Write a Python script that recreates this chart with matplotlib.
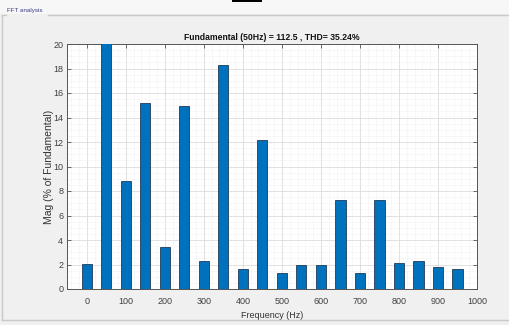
import matplotlib.pyplot as plt
from matplotlib.lines import Line2D
from matplotlib.patches import Rectangle
from matplotlib.ticker import MultipleLocator

# harmonic frequencies (Hz) and magnitudes (% of fundamental)
freqs = [0, 50, 100, 150, 200, 250, 300, 350, 400, 450, 500,
         550, 600, 650, 700, 750, 800, 850, 900, 950]
mags = [2.05, 100.0, 8.85, 15.2, 3.43, 14.9, 2.31, 18.25, 1.66, 12.15, 1.33,
        1.98, 1.98, 7.3, 1.28, 7.25, 2.12, 2.26, 1.82, 1.63]
x_ticks = [0, 100, 200, 300, 400, 500, 600, 700, 800, 900, 1000]
y_ticks = [0, 2, 4, 6, 8, 10, 12, 14, 16, 18, 20]
title = "Fundamental (50Hz) = 112.5 , THD= 35.24%"

W, H = 509, 325
FONT = "Liberation Sans"
fig = plt.figure(figsize=(W / 100, H / 100), dpi=100)
fig.patch.set_facecolor("#f0f0f0")

# top strip + panel frame (MATLAB powergui look)
fig.patches.append(Rectangle((0, 1 - 14 / H), 1, 14 / H, transform=fig.transFigure,
                             facecolor="#f7f7f7", edgecolor="none", zorder=0))
fig.patches.append(Rectangle((232 / W, 1 - 2 / H), 30 / W, 2 / H, transform=fig.transFigure,
                             facecolor="black", edgecolor="none"))
frame = "#c9c9c9"
fig.lines.append(Line2D([48 / W, 1], [1 - 15 / H, 1 - 15 / H], transform=fig.transFigure, color=frame, lw=1))
fig.lines.append(Line2D([2 / W, 2 / W], [1 - 15 / H, 1 - 320 / H], transform=fig.transFigure, color=frame, lw=1))
fig.lines.append(Line2D([2 / W, 1], [1 - 320 / H, 1 - 320 / H], transform=fig.transFigure, color=frame, lw=1))
fig.lines.append(Line2D([2 / W, 6 / W], [1 - 15 / H, 1 - 15 / H], transform=fig.transFigure, color=frame, lw=1))
fig.text(7 / W, 1 - 12 / H, "FFT analysis", fontsize=4.5, color="#3a3a8c",
         family=FONT, ha="left", va="baseline")

ax = fig.add_axes([67.3 / W, 1 - 289 / H, (477 - 67.3) / W, (289 - 44) / H])
ax.set_facecolor("white")
ax.bar(freqs, mags, width=26, color="#0072bd", edgecolor="#1f3b5a", linewidth=0.6, zorder=3)

ax.set_xlim(-50, 1000)
ax.set_ylim(0, 20)
ax.set_xticks(x_ticks)
ax.set_yticks(y_ticks)
ax.xaxis.set_minor_locator(MultipleLocator(20))
ax.yaxis.set_minor_locator(MultipleLocator(0.5))
ax.grid(True, which="major", color="#dcdcdc", lw=0.6, zorder=0)
ax.grid(True, which="minor", color="#ececec", lw=0.5, ls=(0, (1, 1)), zorder=0)
ax.set_axisbelow(True)

ax.tick_params(which="major", direction="in", length=3, width=0.6, top=True, right=True,
               labelsize=6.5, labelcolor="#404040", color="#555555")
ax.tick_params(axis="x", pad=6)
ax.tick_params(axis="y", pad=3)
ax.tick_params(which="minor", length=0)
for lab in ax.get_xticklabels() + ax.get_yticklabels():
    lab.set_family(FONT)
for s in ax.spines.values():
    s.set_color("#555555")
    s.set_linewidth(0.7)

ax.set_title(title, fontsize=6.2, fontweight="bold", family=FONT, color="#111111", pad=3)
ax.set_xlabel("Frequency (Hz)", fontsize=6.5, family=FONT, color="#333333", labelpad=3)
ax.set_ylabel("Mag (% of Fundamental)", fontsize=7.5, family=FONT, color="#333333")
ax.yaxis.set_label_coords(-0.033, 0.5)

fig.savefig("out.png", dpi=100, facecolor=fig.get_facecolor())
